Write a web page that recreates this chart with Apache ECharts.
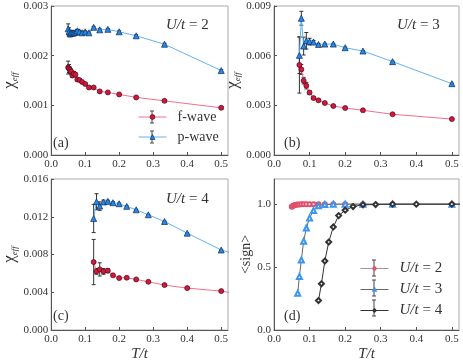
<!DOCTYPE html>
<html><head><meta charset="utf-8">
<script src="https://cdn.jsdelivr.net/npm/echarts@6/dist/echarts.min.js"></script>
<style>html,body{margin:0;padding:0;background:#fff}#c{width:463px;height:364px}</style>
</head><body><div id="c"></div>
<script>
// ---- data ----
const T_ab2 = [0.05,0.0526,0.0556,0.0588,0.0625,0.0667,0.0714,0.0769,0.0833,0.0909,0.1,0.1111,0.125,0.1429,0.1667,0.2,0.25,0.3333,0.5];
const fA = [0.00176,0.00174,0.00171,0.00168,0.00160,0.00164,0.00162,0.00152,0.00151,0.00147,0.00143,0.00136,0.00136,0.00128,0.00126,0.00122,0.00116,0.00109,0.00095];
const fErrA = [0.00013,0.00008,0.00006,0.00005,0.00004,0.00004,0.00003,0.00003,0.00002,0.00002,0.00002,0.00002,0.00002,0.00002,0.00002,0.00002,0.00002,0.00002,0.00002];
const pA = [0.00254,0.00248,0.00244,0.00246,0.00245,0.00246,0.00247,0.00250,0.00248,0.00246,0.00248,0.00246,0.00257,0.00252,0.00253,0.00248,0.00240,0.00223,0.00170];
const pErrA = [0.00010,0.00008,0.00006,0.00005,0.00004,0.00004,0.00003,0.00003,0.00003,0.00003,0.00002,0.00002,0.00002,0.00002,0.00002,0.00002,0.00002,0.00002,0.00002];

const T_b = [0.0714,0.0769,0.0833,0.0909,0.1,0.1111,0.125,0.1429,0.1667,0.2,0.25,0.3333,0.5];
const fB = [0.00544,0.00517,0.00449,0.00419,0.00377,0.00344,0.00330,0.00314,0.00296,0.00284,0.00270,0.00246,0.00217];
const fErrB = [0.0017,0.0003,0.0002,0.0002,0.0001,0.00006,0.00005,0.00004,0.00003,0.00003,0.00003,0.00003,0.00003];
const pB = [0.00602,0.00826,0.00658,0.00690,0.00685,0.00682,0.00668,0.00670,0.00670,0.00648,0.00628,0.00564,0.00431];
const pErrB = [0.0011,0.00042,0.00054,0.0005,0.0002,0.0001,0.00006,0.00005,0.00004,0.00004,0.00003,0.00003,0.00003];

const T_c = [0.125,0.1333,0.1429,0.1538,0.1667,0.1818,0.2,0.2222,0.25,0.2857,0.3333,0.4,0.5,0.6667];
const fC = [0.0072,0.00621,0.00642,0.00621,0.00628,0.00579,0.00550,0.00554,0.00536,0.00511,0.00476,0.00444,0.00412,0.0031];
const fErrC = [0.0024,0.0003,0.0007,0.0003,0.0002,0.0001,0.00008,0.00006,0.00005,0.00004,0.00004,0.00004,0.00004,0.00004];
const pC = [0.01182,0.01359,0.01313,0.01356,0.01363,0.01349,0.01338,0.01310,0.01274,0.01221,0.01150,0.01026,0.00848,0.0067];
const pErrC = [0.0015,0.00085,0.00045,0.0002,0.00012,0.0001,0.00008,0.00006,0.00005,0.00005,0.00004,0.00004,0.00004,0.00004];

const sign2 = [0.980,0.985,0.990,0.993,0.995,0.997,0.998,0.999,1,1,1,1,1,1,1,1,1,1,1];
const T_d3 = [0.0667,0.0714,0.0769,0.0833,0.0909,0.1,0.1111,0.125,0.1429,0.1667,0.2,0.25,0.3333,0.5,0.6667];
const sign3 = [0.293,0.426,0.556,0.705,0.811,0.891,0.949,0.987,0.997,1,1,1,1,1,1];
const sign4 = [0.234,0.367,0.548,0.699,0.819,0.909,0.952,0.981,0.995,0.997,1,1,1,1];
const signErr = 0.005;

const xTicks = ['0.0','0.1','0.2','0.3','0.4','0.5'];

// ---- styles ----
const SERIF = "'Liberation Serif','DejaVu Serif',serif";
const F_LINE = '#f2708c', F_MARK = '#d3173f', P_LINE = '#62b2f6', P_MARK = '#2589ec';
const ERR = '#333';

const grids = [
  {left:43, top:6, width:185, height:149},
  {left:274, top:6, width:185, height:149},
  {left:43, top:179, width:185, height:151},
  {left:274, top:179, width:185, height:151}
];
grids.forEach(g=>{g.show=true; g.borderColor='#aaa'; g.borderWidth=1; g.backgroundColor='transparent';});

function xAxis(i, named){
  return {type:'value', gridIndex:i, min:0, max:0.52, interval:0.1,
    axisLine:{show:true, lineStyle:{color:'#555', width:1}},
    axisTick:{show:true, inside:true, length:3, lineStyle:{color:'#555'}},
    splitLine:{show:false},
    axisLabel:{showMaxLabel:false, color:'#333', fontFamily:SERIF, fontSize:11, margin:4,
      formatter:v=>xTicks[Math.round(v*10)]},
    name: named ? 'T/t' : '', nameLocation:'middle', nameGap:17,
    nameTextStyle:{fontFamily:SERIF, fontStyle:'italic', fontSize:15, color:'#333'}};
}
function yAxis(i, max, interval, dec, name){
  return {type:'value', gridIndex:i, min:0, max:max, interval:interval,
    axisLine:{show:true, lineStyle:{color:'#555', width:1}},
    axisTick:{show:true, inside:true, length:3, lineStyle:{color:'#555'}},
    splitLine:{show:false},
    axisLabel:{showMaxLabel: name!=='chi' ? false : true, color:'#333', fontFamily:SERIF, fontSize:11, margin:3,
      formatter:v=>v.toFixed(dec)},
    name: name==='chi' ? '{c|χ}{s|eff}' : '<sign>', nameLocation:'middle', nameRotate:90,
    nameGap: name==='chi' ? 29 : 19,
    nameTextStyle:{fontFamily:SERIF, fontSize:14, color:'#333',
      rich:{c:{fontFamily:SERIF, fontSize:17, color:'#333', lineHeight:20, verticalAlign:'middle'},
            s:{fontFamily:SERIF, fontSize:9, fontStyle:'italic', color:'#333', lineHeight:9, verticalAlign:'bottom'}}}};
}

function errSeries(gi, T, vals, errs, color){
  return {type:'custom', xAxisIndex:gi, yAxisIndex:gi, clip:true, silent:true, z:1,
    data:T.map((t,i)=>[t, vals[i], Array.isArray(errs)?errs[i]:errs]),
    encode:{x:0, y:1},
    renderItem:function(params, api){
      const x=api.value(0), y=api.value(1), e=api.value(2);
      const a=api.coord([x,y+e]), b=api.coord([x,y-e]);
      const cw=2, st={stroke:color, lineWidth:1};
      return {type:'group', children:[
        {type:'line', shape:{x1:a[0],y1:a[1],x2:b[0],y2:b[1]}, style:st},
        {type:'line', shape:{x1:a[0]-cw,y1:a[1],x2:a[0]+cw,y2:a[1]}, style:st},
        {type:'line', shape:{x1:b[0]-cw,y1:b[1],x2:b[0]+cw,y2:b[1]}, style:st}]};
    }};
}
function lineSeries(gi, name, T, vals, symbol, size, mark, border, line, bw){
  return {type:'line', name:name, xAxisIndex:gi, yAxisIndex:gi, z:2,
    data:T.map((t,i)=>[t, vals[i]]), symbol:symbol, symbolSize:size, showSymbol:true,
    itemStyle:border ? {color:mark, borderColor:border, borderWidth:bw} : {color:mark, borderWidth:bw},
    lineStyle:{color:line, width:1}, animation:false, silent:true};
}

const series = [];
// panel a
series.push(lineSeries(0,'f-wave',T_ab2,fA,'circle',5,F_MARK,'#4a0a14',F_LINE,0.7));
series.push(lineSeries(0,'p-wave',T_ab2,pA,'triangle',6,P_MARK,'#0c2c55',P_LINE,0.7));
series.push(errSeries(0,T_ab2,fA,fErrA,ERR));
series.push(errSeries(0,T_ab2,pA,pErrA,ERR));
// panel b
series.push(lineSeries(1,'f-wave',T_b,fB,'circle',5,F_MARK,'#4a0a14',F_LINE,0.7));
series.push(lineSeries(1,'p-wave',T_b,pB,'triangle',6,P_MARK,'#0c2c55',P_LINE,0.7));
series.push(errSeries(1,T_b,fB,fErrB,ERR));
series.push(errSeries(1,T_b,pB,pErrB,ERR));
// panel c
series.push(lineSeries(2,'f-wave',T_c,fC,'circle',5,F_MARK,'#4a0a14',F_LINE,0.7));
series.push(lineSeries(2,'p-wave',T_c,pC,'triangle',6,P_MARK,'#0c2c55',P_LINE,0.7));
series.push(errSeries(2,T_c,fC,fErrC,ERR));
series.push(errSeries(2,T_c,pC,pErrC,ERR));
// panel d
series.push(lineSeries(3,'U2',T_ab2,sign2,'emptyCircle',4,'#e0506a',null,'#999',1));
series.push(lineSeries(3,'U3',T_d3,sign3,'emptyTriangle',5,'#3a96ee',null,'#666',1));
series.push(lineSeries(3,'U4',T_c,sign4,'emptyDiamond',5,'#333',null,'#333',1));
series.push(errSeries(3,T_c,sign4,signErr,'#444'));

const titleStyle = {fontFamily:SERIF, fontSize:15, fontWeight:'normal', color:'#333', rich:{i:{fontFamily:SERIF, fontStyle:'italic', fontWeight:'normal', fontSize:15, color:'#333'}}};
const labStyle = {fontFamily:SERIF, fontSize:14, fontWeight:'normal', color:'#333'};
const titles = [
  {text:'{i|U/t} = 2', left:166, top:18, textStyle:titleStyle},
  {text:'{i|U/t} = 3', left:397, top:18, textStyle:titleStyle},
  {text:'{i|U/t} = 4', left:166, top:192, textStyle:titleStyle},
  {text:'(a)', left:53, top:136, textStyle:labStyle},
  {text:'(b)', left:284, top:136, textStyle:labStyle},
  {text:'(c)', left:53, top:309, textStyle:labStyle},
  {text:'(d)', left:284, top:309, textStyle:labStyle}
];
titles.forEach(t=>{t.padding=0;});

const legendNames = {U2:'{i|U/t} = 2', U3:'{i|U/t} = 3', U4:'{i|U/t} = 4'};
const legends = [
  {orient:'vertical', left:138, top:110, padding:0, itemWidth:28, itemHeight:6, itemGap:6,
   data:['f-wave','p-wave'],
   lineStyle:{width:1}, itemStyle:{borderWidth:0.7},
   textStyle:{fontFamily:SERIF, fontSize:14, color:'#333', lineHeight:14, padding:[0,0,0,6]}},
  {orient:'vertical', left:360, top:261, padding:0, itemWidth:28, itemHeight:3, itemGap:6,
   data:['U2','U3','U4'], formatter:n=>legendNames[n],
   lineStyle:{width:1}, itemStyle:{borderWidth:1},
   textStyle:{fontFamily:SERIF, fontSize:15, color:'#333', lineHeight:14, padding:[0,0,0,6],
     rich:{i:{fontFamily:SERIF, fontStyle:'italic', fontSize:15, color:'#333'}}}}
];
legends.forEach(l=>{l.selectedMode=false; l.z=3;});

function legendBar(x, y, h){
  return {type:'group', z:2, children:[
    {type:'line', shape:{x1:x,y1:y-h,x2:x,y2:y+h}, style:{stroke:'#444', lineWidth:1}},
    {type:'line', shape:{x1:x-2,y1:y-h,x2:x+2,y2:y-h}, style:{stroke:'#444', lineWidth:1}},
    {type:'line', shape:{x1:x-2,y1:y+h,x2:x+2,y2:y+h}, style:{stroke:'#444', lineWidth:1}}]};
}
const graphic = [legendBar(152,117,6), legendBar(152,137,6),
  legendBar(374,268,8), legendBar(374,288,8), legendBar(374,308,8)];

const chart = echarts.init(document.getElementById('c'), null, {renderer:'canvas'});
chart.setOption({
  animation:false, backgroundColor:'#fff',
  grid:grids,
  xAxis:[xAxis(0,false),xAxis(1,false),xAxis(2,true),xAxis(3,true)],
  yAxis:[yAxis(0,0.003,0.001,3,'chi'),yAxis(1,0.009,0.003,3,'chi'),yAxis(2,0.016,0.004,3,'chi'),yAxis(3,1.2,0.5,1,'sign')],
  title:titles, legend:legends, graphic:graphic, series:series
});
</script></body></html>
